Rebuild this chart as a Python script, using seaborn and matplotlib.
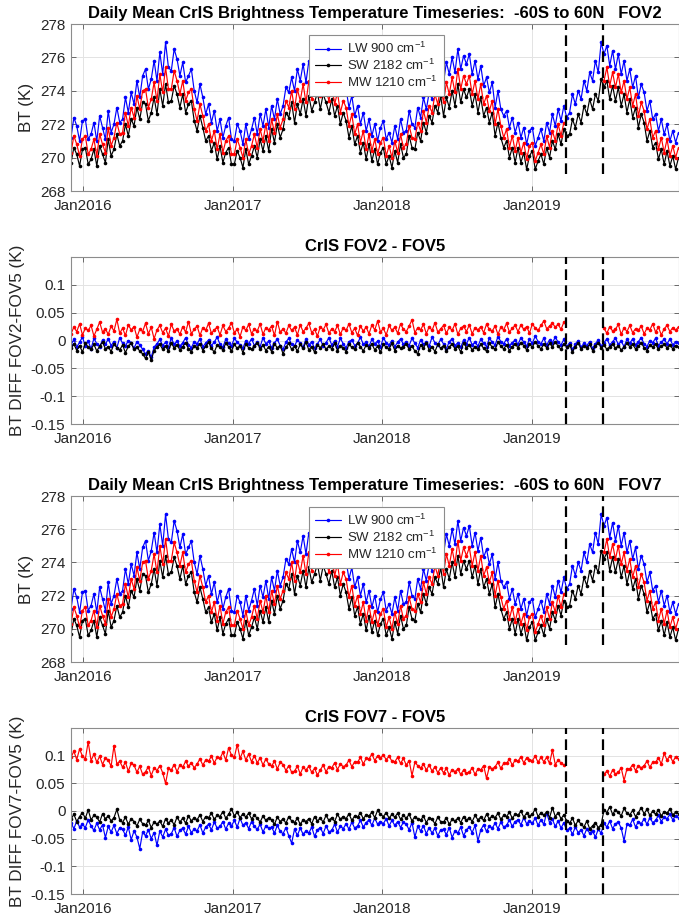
import numpy as np
import pandas as pd
import matplotlib
matplotlib.use("Agg")
import matplotlib.pyplot as plt
import seaborn as sns

# ---------------- data ----------------
start_date = "2015-12-03"
n_points = 213
sample_dates = pd.date_range(start_date, periods=n_points, freq="7D")
event_dates = pd.to_datetime(["2019-03-26", "2019-06-24"])
x_limits = pd.to_datetime(["2015-12-03", "2019-12-26"])
year_ticks = pd.to_datetime(["2016-01-01", "2017-01-01", "2018-01-01", "2019-01-01"])
year_tick_labels = ["Jan2016", "Jan2017", "Jan2018", "Jan2019"]
bt_ticks = [268, 270, 272, 274, 276, 278]
bt_limits = [268, 278]
bt_event_span = [269, 278]
diff_ticks = [-0.15, -0.1, -0.05, 0, 0.05, 0.1]
diff_tick_labels = ["-0.15", "-0.1", "-0.05", "0", "0.05", "0.1"]
diff_limits = [-0.15, 0.15]

channel_labels = ["LW 900 cm$^{-1}$", "SW 2182 cm$^{-1}$", "MW 1210 cm$^{-1}$"]
channel_colors = ["#0000ff", "#000000", "#ff0000"]

titles = [
    "Daily Mean CrIS Brightness Temperature Timeseries:  -60S to 60N   FOV2",
    "CrIS FOV2 - FOV5",
    "Daily Mean CrIS Brightness Temperature Timeseries:  -60S to 60N   FOV7",
    "CrIS FOV7 - FOV5",
]
ylabels = ["BT (K)", "BT DIFF FOV2-FOV5 (K)", "BT (K)", "BT DIFF FOV7-FOV5 (K)"]

N = None

lw_fov2 = [
    271.2, 272.4, 271.9, 271.0, 272.2, 272.3, 271.1, 271.4, 272.1, 271.0, 272.5, 271.8, 271.1,
    272.8, 271.5, 272.0, 273.0, 272.1, 272.3, 273.6, 272.7, 273.9, 273.2, 274.6, 273.6, 274.9,
    275.3, 274.1, 274.7, 275.8, 274.6, 276.3, 275.0, 276.9, 275.4, 275.2, 276.5, 275.9, 274.9,
    275.7, 274.5, 274.9, 275.3, 274.0, 273.3, 274.4, 273.6, 272.6, 273.2, 272.1, 272.8, 271.6,
    272.3, 271.2, 271.9, 272.4, 271.1, 271.0, 272.0, 271.6, 270.8, 272.0, 271.1, 271.7, 272.4,
    271.4, 272.6, 271.9, 272.9, 271.8, 273.1, 272.3, 273.5, 272.6, 273.1, 274.2, 273.9, 274.8,
    274.0, 275.3, 274.6, 275.6, 274.5, 275.8, 274.7, 275.4, 276.1, 274.9, 275.9, 275.3, 274.6,
    275.4, 274.3, 275.0, 273.8, 274.6, 274.1, 273.0, 273.7, 272.5, 273.1, 272.0, 272.7, 271.6,
    272.3, 271.3, 272.0, 271.0, 271.8, 272.2, 271.1, 271.5, 270.9, 271.9, 271.1, 272.3, 271.5,
    271.6, 272.8, 272.0, 271.8, 273.0, 272.4, 273.6, 272.9, 273.9, 273.5, 274.6, 274.1, 275.3,
    274.5, 275.7, 275.0, 276.0, 275.1, 276.5, 275.3, 276.1, 275.6, 276.2, 275.0, 275.8, 274.7,
    275.5, 274.3, 274.8, 273.9, 274.5, 273.0, 274.0, 272.9, 272.5, 272.8, 271.8, 272.4, 271.5,
    272.1, 271.2, 271.8, 270.8, 271.6, 271.8, 270.7, 271.2, 271.7, 271.0, 272.1, 271.5, 272.6,
    271.9, 272.9, 272.2, 273.1, 272.4, 272.7, 273.8, 273.2, 274.0, 273.5, 274.6, 274.0, 275.1,
    274.6, 275.8, 275.1, 276.9, 276.2, 276.7, 275.5, 276.4, 275.3, 276.2, 275.0, 275.8, 274.6,
    275.3, 274.2, 274.9, 273.6, 274.4, 273.9, 272.8, 273.4, 272.3, 272.6, 271.6, 272.3, 271.4,
    272.0, 271.0, 271.6, 270.9, 271.5,
]

sw_fov2 = [
    269.7, 270.6, 270.2, 269.5, 270.5, 270.6, 269.6, 269.9, 270.5, 269.5, 270.7, 270.2, 269.7,
    271.1, 270.1, 270.5, 271.4, 270.7, 271.0, 272.0, 271.3, 272.3, 271.9, 273.0, 272.3, 273.3,
    273.2, 272.2, 272.7, 273.6, 272.6, 274.1, 273.1, 274.4, 273.3, 273.4, 274.3, 273.8, 273.0,
    273.8, 272.7, 273.2, 273.4, 272.2, 271.6, 272.5, 271.8, 271.0, 271.3, 270.4, 270.9, 269.9,
    270.7, 269.7, 270.3, 270.6, 269.6, 269.6, 270.4, 270.0, 269.4, 270.5, 269.6, 270.1, 270.7,
    270.0, 271.1, 270.4, 271.3, 270.4, 271.7, 270.9, 272.0, 271.2, 271.7, 272.7, 272.4, 273.3,
    272.1, 273.2, 272.6, 273.5, 272.5, 273.7, 272.8, 273.3, 273.9, 272.9, 273.8, 273.3, 272.7,
    273.5, 272.5, 273.1, 272.0, 272.7, 272.2, 271.2, 271.9, 270.8, 271.3, 270.3, 270.9, 269.9,
    270.8, 269.8, 270.5, 269.6, 270.3, 270.6, 269.6, 270.1, 269.4, 270.4, 269.7, 270.8, 270.0,
    270.2, 271.3, 270.6, 270.5, 271.5, 271.0, 272.1, 271.5, 272.5, 272.1, 273.1, 272.7, 273.7,
    272.5, 273.6, 273.0, 274.0, 273.1, 274.4, 273.3, 274.1, 273.6, 274.1, 273.1, 273.8, 272.7,
    273.6, 272.5, 273.0, 272.1, 272.7, 271.3, 272.1, 271.2, 270.6, 271.0, 270.0, 270.6, 269.7,
    270.6, 269.7, 270.3, 269.3, 270.1, 270.4, 269.3, 269.8, 270.2, 269.6, 270.6, 270.0, 271.0,
    270.5, 271.4, 270.8, 271.7, 271.3, 271.4, 272.3, 271.8, 272.6, 272.1, 273.1, 272.6, 273.5,
    272.9, 273.8, 273.4, 274.7, 274.2, 274.6, 273.5, 274.3, 273.4, 274.2, 273.1, 273.8, 272.7,
    273.5, 272.4, 273.0, 271.8, 272.6, 272.1, 271.0, 271.6, 270.6, 270.9, 269.9, 270.5, 269.6,
    270.4, 269.5, 270.1, 269.3, 270.0,
]

mw_fov2 = [
    270.3, 271.3, 270.8, 270.1, 271.1, 271.3, 270.2, 270.5, 271.1, 270.1, 271.4, 270.8, 270.3,
    271.8, 270.7, 271.2, 272.1, 271.4, 271.5, 272.7, 271.9, 273.0, 272.4, 273.7, 272.9, 274.0,
    274.1, 273.0, 273.5, 274.5, 273.4, 275.0, 273.9, 275.4, 274.1, 274.1, 275.2, 274.6, 273.8,
    274.6, 273.4, 273.9, 274.1, 272.9, 272.2, 273.2, 272.5, 271.6, 272.0, 271.0, 271.6, 270.5,
    271.4, 270.3, 271.0, 271.3, 270.2, 270.2, 271.1, 270.6, 270.0, 271.1, 270.2, 270.7, 271.4,
    270.6, 271.7, 271.0, 272.0, 271.0, 272.3, 271.5, 272.6, 271.8, 272.3, 273.4, 273.0, 274.0,
    272.9, 274.1, 273.4, 274.4, 273.3, 274.6, 273.5, 274.1, 274.8, 273.7, 274.7, 274.1, 273.4,
    274.3, 273.2, 273.9, 272.7, 273.4, 273.0, 271.9, 272.6, 271.4, 272.0, 270.9, 271.6, 270.5,
    271.4, 270.4, 271.1, 270.2, 270.9, 271.2, 270.1, 270.7, 270.0, 271.0, 270.3, 271.4, 270.6,
    270.8, 271.9, 271.2, 271.1, 272.1, 271.6, 272.8, 272.1, 273.1, 272.7, 273.8, 273.2, 274.3,
    273.3, 274.5, 273.8, 274.8, 273.9, 275.3, 274.1, 274.9, 274.4, 274.9, 273.8, 274.6, 273.5,
    274.4, 273.2, 273.7, 272.8, 273.4, 272.0, 272.9, 271.9, 271.2, 271.7, 270.6, 271.3, 270.4,
    271.2, 270.3, 270.9, 269.9, 270.7, 270.9, 269.8, 270.3, 270.8, 270.2, 271.3, 270.6, 271.6,
    271.0, 272.0, 271.3, 272.1, N, N, N, N, N, N, N, N, N,
    N, N, N, N, 274.6, 275.4, 274.3, 275.1, 274.2, 275.0, 273.9, 274.6, 273.5,
    274.2, 273.1, 273.8, 272.5, 273.3, 272.8, 271.7, 272.3, 271.2, 271.6, 270.5, 271.2, 270.3,
    271.1, 270.1, 270.7, 270.0, 270.6,
]

# FOV7 brightness temperatures are indistinguishable from FOV2 at this scale
lw_fov7 = list(lw_fov2)
sw_fov7 = list(sw_fov2)
mw_fov7 = list(mw_fov2)

lw_diff25 = [
    -.008, .002, -.012, -.003, .006, -.010, -.001, -.015, .004, -.006, -.011, .001, -.007,
    .003, -.009, -.002, -.013, .005, -.005, -.010, .000, -.004, -.014, -.002, -.008, -.016,
    -.024, -.018, -.030, -.012, -.006, .002, -.009, -.003, -.012, .004, -.007, -.001, -.010,
    -.004, .005, -.008, -.013, -.002, -.006, .003, -.011, -.005, .001, -.009, -.003, .006,
    -.007, -.012, .002, -.005, -.010, .004, -.003, -.008, -.014, .000, -.006, .003, -.009,
    -.002, -.011, .005, -.006, -.001, -.013, -.004, .002, -.009, -.016, -.003, .004, -.007,
    -.010, .001, -.005, -.012, .003, -.008, -.002, -.014, -.006, .002, -.010, -.004, .005,
    -.008, -.001, -.011, .004, -.006, -.013, -.002, .001, -.009, -.005, .006, -.007, -.003,
    -.010, .002, -.006, -.001, -.012, .005, -.004, -.008, .000, -.011, -.003, .003, -.007,
    -.002, -.009, .004, -.005, -.013, .001, -.007, -.003, -.010, .006, -.004, -.008, .002,
    -.006, -.015, -.002, .003, -.009, -.004, -.012, .001, -.006, .005, -.008, -.003, -.010,
    .002, -.005, -.011, .004, -.003, -.008, .007, -.002, -.006, .003, -.009, -.004, .001,
    -.007, .005, -.003, -.010, .002, -.005, .008, -.002, -.006, .004, -.008, .001, -.004,
    .006, -.003, -.008, .002, -.011, -.004, -.016, -.007, .000, -.012, -.005, -.009, -.002,
    -.014, -.006, .001, -.010, -.004, .003, -.008, -.002, .004, -.007, -.001, -.011, .002,
    -.005, .003, -.008, -.002, .005, -.006, -.011, .000, -.004, .004, -.009, -.003, .002,
    -.006, .003, -.008, -.002, -.005,
]

sw_diff25 = [
    -.014, -.006, -.018, -.009, -.021, -.004, -.012, -.016, -.007, -.019, -.010, -.003, -.015,
    -.011, -.020, -.006, -.013, -.017, -.008, -.022, -.010, -.005, -.016, -.012, -.019, -.024,
    -.032, -.021, -.035, -.018, -.012, -.007, -.016, -.010, -.019, -.005, -.013, -.008, -.017,
    -.011, -.004, -.015, -.020, -.009, -.013, -.006, -.018, -.010, -.003, -.014, -.021, -.008,
    -.012, -.017, -.005, -.011, -.019, -.007, -.014, -.009, -.022, -.006, -.013, -.016, -.010,
    -.004, -.015, -.008, -.018, -.011, -.020, -.006, -.013, -.009, -.024, -.012, -.005, -.016,
    -.010, -.019, -.007, -.014, -.003, -.017, -.011, -.021, -.008, -.013, -.006, -.016, -.010,
    -.015, -.005, -.018, -.009, -.013, -.020, -.007, -.012, -.016, -.004, -.011, -.019, -.008,
    -.013, -.006, -.017, -.010, -.021, -.007, -.012, -.015, -.005, -.018, -.009, -.014, -.011,
    -.006, -.016, -.010, -.019, -.024, -.008, -.013, -.005, -.017, -.011, -.020, -.007, -.014,
    -.009, -.018, -.012, -.006, -.015, -.010, -.021, -.004, -.013, -.008, -.017, -.011, -.016,
    -.007, -.014, -.019, -.005, -.012, -.016, -.003, -.010, -.015, -.008, -.018, -.011, -.006,
    -.013, -.004, -.009, -.017, -.006, -.012, -.002, -.010, -.015, -.007, -.013, -.005, -.011,
    -.003, -.010, -.016, -.006, -.012, -.008, -.020, -.011, -.005, -.015, -.009, -.013, -.007,
    -.018, -.010, -.004, -.013, -.008, -.016, -.011, -.006, -.014, -.009, -.017, -.012, -.005,
    -.011, -.007, -.015, -.010, -.004, -.013, -.018, -.008, -.012, -.006, -.016, -.010, -.007,
    -.013, -.008, -.015, -.009, -.012,
]

mw_diff25 = [
    .012, .024, .016, .030, .010, .022, .018, .027, .008, .020, .033, .015, .021,
    .011, .026, .017, .038, .013, .022, .009, .028, .019, .025, .006, .020, .016,
    .031, .012, .024, .003, .019, .027, .014, .022, .008, .029, .017, .021, .011,
    .025, .015, .034, .012, .020, .026, .009, .023, .018, .031, .013, .019, .024,
    .010, .027, .016, .022, .032, .014, .020, .007, .025, .018, .029, .012, .021,
    .017, .030, .011, .023, .019, .026, .009, .034, .015, .021, .013, .027, .018,
    .024, .010, .028, .016, .022, .031, .014, .020, .008, .025, .019, .029, .013,
    .021, .016, .027, .011, .023, .018, .030, .014, .022, .009, .026, .017, .024,
    .012, .028, .019, .035, .015, .022, .010, .027, .018, .024, .013, .030, .020,
    .016, .026, .037, .014, .023, .019, .029, .012, .025, .018, .032, .015, .021,
    .027, .013, .024, .018, .030, .011, .022, .026, .016, .028, .012, .023, .019,
    .025, .014, .029, .020, .017, .026, .011, .024, .019, .031, .015, .022, .027,
    .016, .028, .020, .025, .013, .030, .022, .018, .027, .035, .021, .026, .031,
    .024, .029, .020, .033, N, N, N, N, N, N, N, N, N,
    N, N, N, N, .022, .013, .025, .017, .020, .029, .011, .023, .016,
    .027, .014, .021, .018, .026, .012, .022, .019, .030, .015, .024, .010, .021,
    .027, .016, .023, .018, .025,
]

lw_diff75 = [
    -.021, -.032, -.018, -.029, -.024, -.030, -.016, -.027, -.035, -.022, -.034, -.025, -.048,
    -.028, -.038, -.026, -.041, -.030, -.033, -.044, -.029, -.052, -.036, -.047, -.068, -.038,
    -.045, -.034, -.050, -.039, -.062, -.036, -.047, -.033, -.044, -.041, -.030, -.046, -.035,
    -.031, -.042, -.028, -.039, -.033, -.036, -.025, -.040, -.029, -.024, -.034, -.020, -.031,
    -.028, -.019, -.033, -.022, -.027, -.017, -.029, -.013, -.026, -.021, -.032, -.019, -.028,
    -.033, -.024, -.038, -.027, -.031, -.029, -.040, -.026, -.037, -.041, -.030, -.045, -.058,
    -.033, -.044, -.031, -.042, -.036, -.040, -.029, -.046, -.034, -.030, -.041, -.027, -.038,
    -.035, -.024, -.038, -.027, -.032, -.023, -.033, -.020, -.031, -.027, -.017, -.029, -.021,
    -.016, -.026, -.013, -.024, -.019, -.023, -.014, -.027, -.017, -.026, -.019, -.030, -.020,
    -.024, -.034, -.021, -.047, -.028, -.036, -.027, -.041, -.030, -.040, -.031, -.045, -.034,
    -.033, -.043, -.030, -.048, -.036, -.040, -.029, -.045, -.034, -.029, -.039, -.026, -.054,
    -.034, -.025, -.037, -.027, -.031, -.022, -.032, -.020, -.029, -.026, -.016, -.028, -.019,
    -.016, -.025, -.012, -.023, -.018, -.022, -.013, -.026, -.016, -.024, -.003, -.021, -.015,
    -.028, -.018, -.031, -.021, -.035, -.031, -.042, -.029, -.039, -.034, -.045, -.032, -.040,
    -.036, -.047, -.033, -.040, -.022, -.029, -.018, -.032, -.023, -.020, -.031, -.054, -.024,
    -.026, -.015, -.029, -.019, -.023, -.014, -.024, -.012, -.021, -.017, -.008, -.019, -.011,
    -.014, -.006, -.016, -.009, -.012,
]

sw_diff75 = [
    -.015, -.006, -.019, -.010, -.003, -.013, .002, -.016, -.008, -.011, -.020, -.005, -.014,
    -.009, -.018, -.012, .003, -.016, -.021, -.011, -.024, -.014, -.019, -.027, -.015, -.023,
    -.026, -.017, -.030, -.020, -.024, -.018, -.028, -.014, -.022, -.016, -.025, -.011, -.020,
    -.013, -.022, -.009, -.018, -.012, -.016, -.007, -.019, -.010, -.012, -.004, -.015, -.008,
    -.010, -.001, -.013, -.006, .004, -.009, -.002, -.012, -.005, -.011, -.004, -.014, -.008,
    -.013, -.020, -.009, -.017, -.012, -.016, -.024, -.011, -.019, -.014, -.022, -.010, -.018,
    -.021, -.013, -.024, -.016, -.019, -.014, -.023, -.010, -.018, -.013, -.020, -.008, -.017,
    -.012, -.019, -.006, -.015, -.010, -.014, -.005, -.017, -.009, -.011, -.003, -.014, -.007,
    -.009, -.002, -.012, .001, -.006, -.010, -.003, -.013, -.006, -.011, -.004, -.015, -.008,
    -.013, -.006, -.018, -.010, -.014, -.017, -.009, -.021, -.012, -.015, -.023, -.011, -.019,
    -.020, -.012, -.024, -.015, -.018, -.013, -.021, -.010, -.017, -.012, -.019, -.008, -.016,
    -.011, -.017, -.006, -.014, -.009, -.012, -.004, -.015, -.008, -.010, -.002, -.013, -.006,
    -.008, .000, -.011, -.004, -.009, -.006, .004, -.010, -.003, -.008, -.001, -.012, .006,
    -.010, -.003, -.014, -.007, -.018, -.022, -.013, -.026, -.017, -.024, -.029, -.018, -.032,
    -.027, -.021, -.030, -.025, .002, -.003, .008, -.006, .002, -.002, -.009, .005, -.004,
    -.007, .001, -.010, -.003, .006, -.005, .003, -.008, .000, -.006, .002, -.009, -.001,
    -.004, .004, -.007, -.002, -.005,
]

mw_diff75 = [
    .097, .108, .093, .112, .099, .094, .125, .091, .103, .088, .099, .084, .096,
    .092, .081, .118, .085, .090, .079, .088, .072, .086, .083, .070, .081, .066,
    .071, .080, .064, .078, .073, .082, .069, .050, .077, .074, .084, .071, .083,
    .079, .090, .081, .087, .078, .085, .094, .083, .092, .090, .099, .087, .097,
    .095, .106, .092, .114, .101, .097, .120, .095, .108, .092, .103, .089, .100,
    .087, .096, .083, .094, .085, .081, .090, .076, .088, .084, .073, .082, .070,
    .072, .081, .067, .079, .074, .081, .070, .077, .065, .074, .083, .071, .080,
    .078, .087, .075, .085, .080, .083, .092, .080, .089, .088, .097, .085, .095,
    .094, .103, .091, .100, .096, .101, .093, .099, .090, .089, .097, .086, .095,
    .083, .091, .064, .088, .082, .077, .085, .074, .083, .072, .080, .069, .078,
    .069, .077, .065, .075, .071, .076, .066, .074, .068, .070, .078, .066, .076,
    .074, .082, .059, .080, .076, .080, .088, .077, .086, .086, .094, .083, .092,
    .090, .098, .087, .096, .093, .091, .099, .088, .097, .089, .097, .086, .110,
    .084, .092, .087, .083, N, N, N, N, N, N, N, N, N,
    N, N, N, N, .066, .072, .063, .074, .067, .070, .078, .055, .076,
    .076, .084, .073, .082, .078, .082, .090, .079, .088, .088, .096, .085, .104,
    .092, .100, .089, .098, .094,
]

panel_series = [
    [lw_fov2, sw_fov2, mw_fov2],
    [lw_diff25, sw_diff25, mw_diff25],
    [lw_fov7, sw_fov7, mw_fov7],
    [lw_diff75, sw_diff75, mw_diff75],
]
panel_is_bt = [True, False, True, False]

# ---------------- style ----------------
sns.set_theme(style="whitegrid")
plt.rcParams["font.family"] = ["Liberation Sans", "DejaVu Sans"]
plt.rcParams["axes.unicode_minus"] = False
plt.rcParams["mathtext.fontset"] = "custom"
plt.rcParams["mathtext.rm"] = "Liberation Sans"
plt.rcParams["mathtext.it"] = "Liberation Sans"

W, H = 679, 917
fig = plt.figure(figsize=(W / 100, H / 100), dpi=100)
fig.patch.set_facecolor("white")

axes_px = [(71, 24, 678.5, 191), (71, 257, 678.5, 424), (71, 496, 678.5, 662), (71, 728, 678.5, 894)]


def draw_channel(ax, values, color, label=None):
    s = pd.Series(values, index=sample_dates, dtype=float)
    ok = s.notna()
    seg_id = (ok != ok.shift(1, fill_value=bool(ok.iloc[0]))).cumsum()
    first = True
    for _, part in s[ok].groupby(seg_id[ok]):
        kw = {}
        if first and label:
            kw["label"] = label
        sns.lineplot(x=part.index, y=part.values, ax=ax, color=color,
                     linewidth=0.85, marker="o", markersize=2.6, mec=color, mew=0,
                     estimator=None, legend=False, **kw)
        first = False


for i, (l, t, r, b) in enumerate(axes_px):
    ax = fig.add_axes([l / W, 1 - b / H, (r - l) / W, (b - t) / H])
    ax.set_facecolor("white")
    for vals, col, lab in zip(panel_series[i], channel_colors, channel_labels):
        draw_channel(ax, vals, col, lab if panel_is_bt[i] else None)

    if panel_is_bt[i]:
        ax.set_ylim(*bt_limits)
        ax.set_yticks(bt_ticks, [str(v) for v in bt_ticks])
        ev_lo, ev_hi = bt_event_span
    else:
        ax.set_ylim(*diff_limits)
        ax.set_yticks(diff_ticks, diff_tick_labels)
        ev_lo, ev_hi = diff_limits
    ax.vlines(event_dates.to_pydatetime(), ev_lo, ev_hi, colors="black",
              linestyles=(0, (4.8, 2.4)), linewidth=1.6, zorder=6)

    ax.set_xlim(x_limits[0].to_pydatetime(), x_limits[1].to_pydatetime())
    ax.set_xticks(year_ticks.to_pydatetime(), year_tick_labels)
    ax.grid(True, color="#e3e3e3", linewidth=0.7)
    ax.set_axisbelow(True)
    for sp in ax.spines.values():
        sp.set_visible(True)
        sp.set_color("#8c8c8c")
        sp.set_linewidth(0.8)
    ax.tick_params(axis="both", which="major", direction="in", length=3.5, width=0.6,
                   color="#555555", labelsize=11, labelcolor="#262626",
                   bottom=True, left=True, top=True, right=True)
    ax.tick_params(axis="x", pad=6)
    ax.tick_params(axis="y", pad=4)
    ax.set_xlabel("")
    ax.set_ylabel(ylabels[i], fontsize=12.3, color="#262626", labelpad=4)
    ax.set_title(titles[i], fontsize=12, fontweight="bold", color="black", pad=4)

    if panel_is_bt[i]:
        leg = ax.legend(loc="upper left", bbox_to_anchor=(0.392, 0.934), borderaxespad=0,
                        fontsize=9.5, frameon=True, fancybox=False, framealpha=1,
                        facecolor="white", edgecolor="#8c8c8c", handlelength=2.0,
                        handletextpad=0.45, labelspacing=0.12, borderpad=0.45,
                        markerscale=1.0)
        leg.get_frame().set_linewidth(0.8)
        leg.set_zorder(10)

fig.savefig("out.png", dpi=100, facecolor="white")
